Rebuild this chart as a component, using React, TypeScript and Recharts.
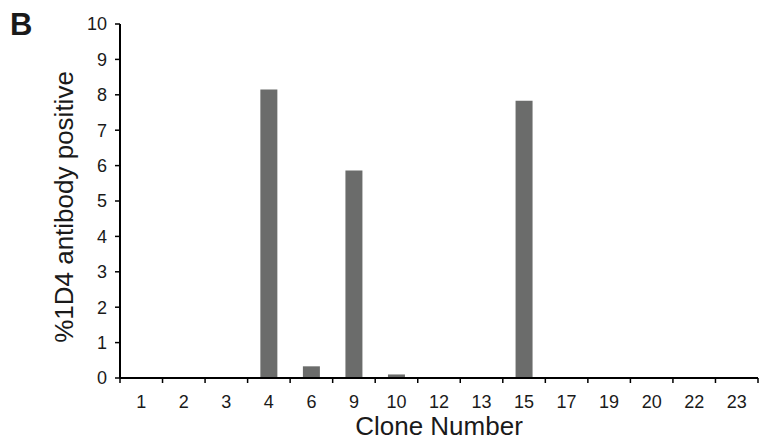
import React from 'react';
import { BarChart, Bar, XAxis, YAxis } from 'recharts';

const clones = ['1', '2', '3', '4', '6', '9', '10', '12', '13', '15', '17', '19', '20', '22', '23'];
const positive = [0.02, 0.02, 0.02, 8.15, 0.33, 5.86, 0.1, 0.02, 0.02, 7.83, 0.02, 0.02, 0, 0.02, 0];
const yTicks = [0, 1, 2, 3, 4, 5, 6, 7, 8, 9, 10];

const data = clones.map((c, i) => ({ clone: c, value: positive[i] }));

const FONT = '"Liberation Sans", Arial, Helvetica, sans-serif';

// category labels at the centre, tick marks on the band edges
function CloneTick(props: any) {
  const { x, y, payload, index } = props;
  const half = payload.offset || 0;
  return (
    <g>
      <line x1={x - half} x2={x - half} y1={y} y2={y + 5} stroke="#000" strokeWidth={1.5} />
      {index === clones.length - 1 && (
        <line x1={x + half} x2={x + half} y1={y} y2={y + 5} stroke="#000" strokeWidth={1.5} />
      )}
      <text x={x} y={y + 30} textAnchor="middle" fontSize={18} fill="#1a1a1a" fontFamily={FONT}>
        {payload.value}
      </text>
    </g>
  );
}

export default function App() {
  return (
    <div style={{ position: 'absolute', left: 0, top: 0, width: 775, height: 444, background: '#fff' }}>
      <div style={{ position: 'absolute', left: 10, top: 10, fontSize: 31, lineHeight: '30px', fontWeight: 'bold', fontFamily: FONT, color: '#1a1a1a' }}>
        B
      </div>
      <BarChart width={775} height={444} data={data} margin={{ top: 24, right: 17, bottom: 0, left: 0 }} barCategoryGap="30%">
        <XAxis
          dataKey="clone"
          interval={0}
          height={66}
          tickSize={0}
          tickMargin={0}
          tickLine={false}
          axisLine={{ stroke: '#000', strokeWidth: 2 }}
          tick={<CloneTick />}
          label={{ value: 'Clone Number', position: 'insideBottom', offset: 9, fontSize: 26, fill: '#1a1a1a', fontFamily: FONT }}
        />
        <YAxis
          width={120}
          domain={[0, 10]}
          ticks={yTicks}
          interval={0}
          tickSize={5}
          tickMargin={8}
          tickLine={{ stroke: '#000', strokeWidth: 1.5 }}
          axisLine={{ stroke: '#000', strokeWidth: 2 }}
          tick={{ fontSize: 18, fill: '#1a1a1a', fontFamily: FONT }}
          label={{ value: '%1D4 antibody positive', angle: -90, position: 'center', dx: 4, dy: 6, fontSize: 26, fill: '#1a1a1a', fontFamily: FONT }}
        />
        <Bar dataKey="value" fill="#6b6c6b" isAnimationActive={false} />
      </BarChart>
    </div>
  );
}
